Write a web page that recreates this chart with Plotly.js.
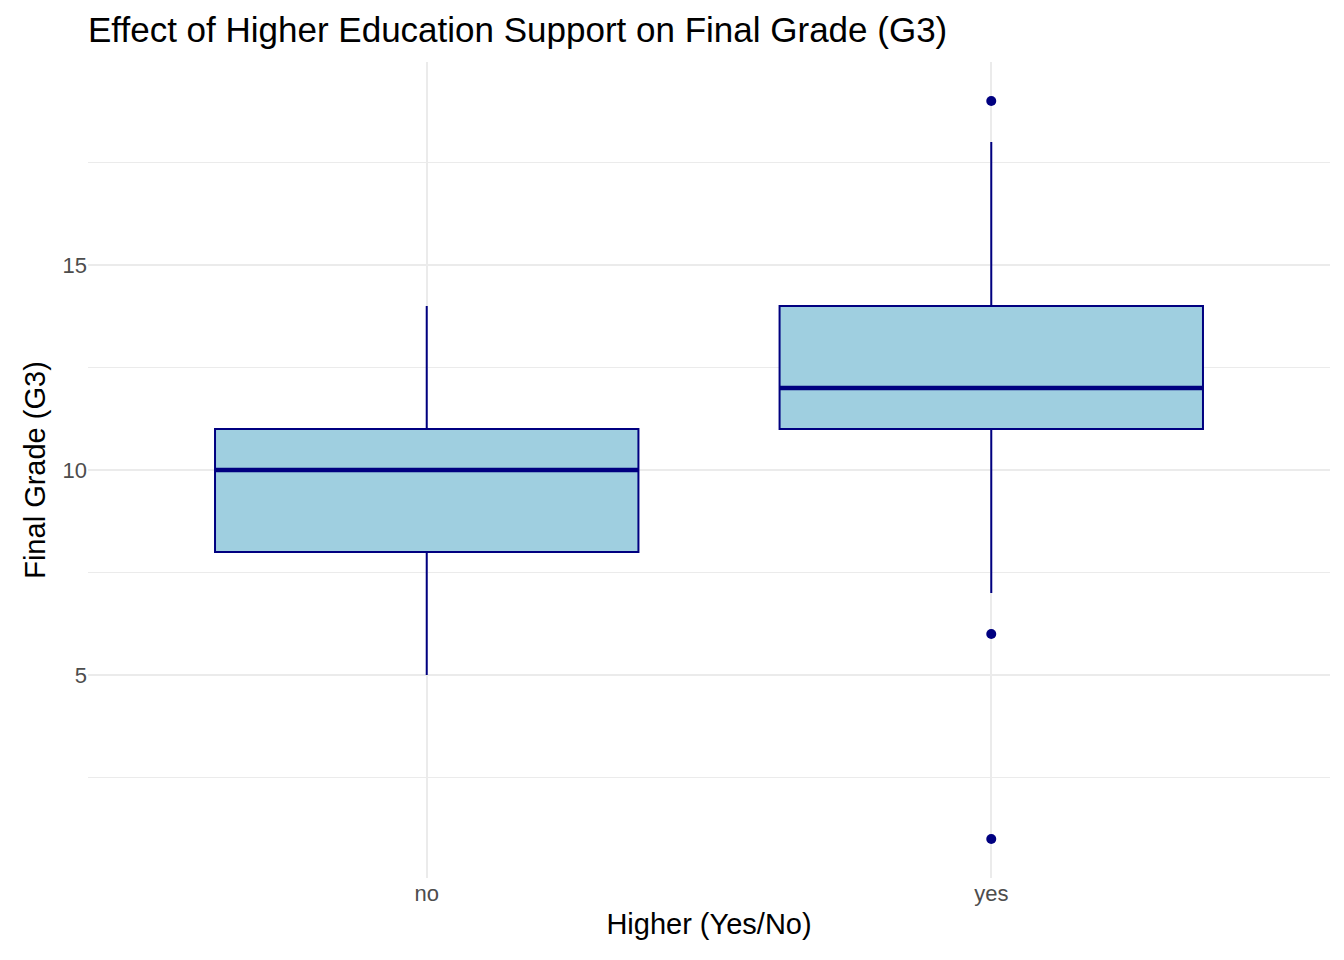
<!DOCTYPE html>
<html>
<head>
<meta charset="utf-8">
<script src="https://cdn.plot.ly/plotly-3.0.1.min.js"></script>
<style>html,body{margin:0;padding:0;background:#fff}#chart{width:1344px;height:960px}</style>
</head>
<body>
<div id="chart"></div>
<script>
const categories = ['no', 'yes'];
const q1 = [8, 11];
const medians = [10, 12];
const q3 = [11, 14];
const lowerFence = [5, 7];
const upperFence = [14, 18];
const outlierX = ['yes', 'yes', 'yes'];
const outlierY = [19, 6, 1];

const navy = '#000080';

const boxTrace = {
    type: 'box',
    x: categories,
    q1: q1,
    median: medians,
    q3: q3,
    lowerfence: lowerFence,
    upperfence: upperFence,
    boxpoints: false,
    fillcolor: '#9FCFE0',
    line: {color: navy, width: 2},
    whiskerwidth: 0,
    width: 0.75,
    hoverinfo: 'y',
};

// thicker median line, drawn as a flat box on top
const medianTrace = {
    type: 'box',
    x: categories,
    q1: medians,
    median: medians,
    q3: medians,
    lowerfence: medians,
    upperfence: medians,
    boxpoints: false,
    fillcolor: 'rgba(0,0,0,0)',
    line: {color: navy, width: 4.5},
    whiskerwidth: 0,
    width: 0.75,
    hoverinfo: 'skip',
};

const outlierTrace = {
    type: 'scatter',
    mode: 'markers',
    x: outlierX,
    y: outlierY,
    marker: {color: navy, size: 10},
    hoverinfo: 'y',
};

const layout = {
    width: 1344,
    height: 960,
    margin: {l: 88, r: 14, t: 62, b: 82},
    paper_bgcolor: '#fff',
    plot_bgcolor: '#fff',
    showlegend: false,
    boxmode: 'overlay',
    font: {family: 'Liberation Sans, Arial, sans-serif', color: '#000'},
    title: {
        text: 'Effect of Higher Education Support on Final Grade (G3)',
        x: 88 / 1344, xanchor: 'left', y: 0.969, yanchor: 'middle',
        font: {size: 35, color: '#000'},
    },
    xaxis: {
        type: 'category',
        range: [-0.6, 1.6],
        showgrid: true,
        gridcolor: '#ebebeb',
        gridwidth: 2,
        zeroline: false,
        showline: false,
        ticks: '',
        ticklen: 0,
        tickfont: {size: 22, color: '#4d4d4d'},
        title: {text: 'Higher (Yes/No)', font: {size: 29, color: '#000'}, standoff: 8},
    },
    yaxis: {
        range: [0.05, 19.95],
        tickvals: [5, 10, 15],
        showgrid: true,
        gridcolor: '#ebebeb',
        gridwidth: 2,
        zeroline: false,
        showline: false,
        ticks: '',
        tickfont: {size: 22, color: '#4d4d4d'},
        minor: {tick0: 2.5, dtick: 5, showgrid: true, gridcolor: '#ebebeb', gridwidth: 1},
        title: {text: 'Final Grade (G3)', font: {size: 29, color: '#000'}, standoff: 8},
    },
};

Plotly.newPlot('chart', [boxTrace, medianTrace, outlierTrace], layout, {displayModeBar: false});
</script>
</body>
</html>
